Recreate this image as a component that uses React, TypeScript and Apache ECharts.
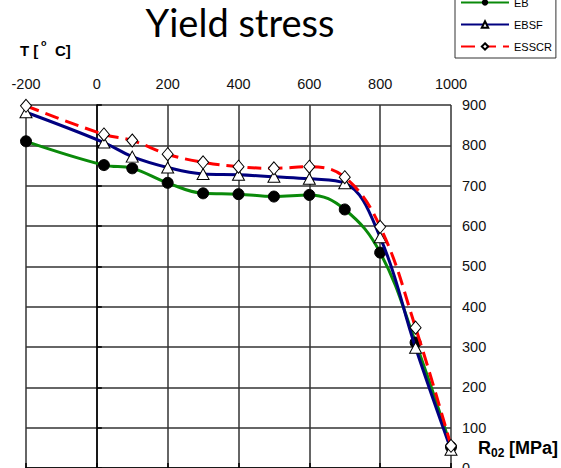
import React, { useEffect, useRef } from "react";
import * as echarts from "echarts";

const temperatures = [-200, 20, 100, 200, 300, 400, 500, 600, 700, 800, 900, 1000];
const ebValues = [810, 751, 743, 707, 681, 679, 673, 677, 641, 534, 311, 52];
const ebsfValues = [882, 807, 772, 745, 729, 727, 722, 717, 706, 572, 298, 45];
const esscrValues = [898, 827, 812, 778, 758, 747, 743, 747, 721, 598, 348, 55];
const seriesNames = ["EB", "EBSF", "ESSCR"];

const zip = (xs: number[], ys: number[]) => xs.map((x, i) => [x, ys[i]]);

const FONT = "'Liberation Sans', Arial, sans-serif";

export default function App() {
  const ref = useRef<HTMLDivElement>(null);
  useEffect(() => {
    if (!ref.current) return;
    const chart = echarts.init(ref.current, null, { renderer: "svg" });
    chart.setOption({
      animation: false,
      backgroundColor: "#fff",
      grid: {
        left: 26,
        right: 110,
        top: 105,
        bottom: 0,
        containLabel: false,
        outerBoundsMode: "none",
      },
      legend: {
        data: seriesNames,
        orient: "vertical",
        left: 455,
        top: -8,
        itemWidth: 48,
        itemHeight: 8,
        itemGap: 11,
        padding: [5, 4, 6, 5],
        borderColor: "#333",
        borderWidth: 1,
        backgroundColor: "#fff",
        textStyle: { fontSize: 11, color: "#000", fontFamily: FONT },
      },
      xAxis: {
        type: "value",
        position: "top",
        min: -200,
        max: 1000,
        interval: 200,
        axisLine: { show: true, lineStyle: { color: "#000", width: 1.5 } },
        axisTick: { show: true, length: 5, lineStyle: { color: "#000", width: 1.5 } },
        axisLabel: {
          fontSize: 14.5,
          color: "#111",
          fontFamily: FONT,
          margin: 14,
          formatter: (v: number) => String(v),
        },
        splitLine: { show: true, lineStyle: { color: "#333", width: 1.5 } },
      },
      yAxis: {
        type: "value",
        position: "right",
        min: 0,
        max: 900,
        interval: 100,
        axisLine: { show: true, lineStyle: { color: "#000", width: 1.5 } },
        axisTick: { show: true, length: 5, lineStyle: { color: "#000", width: 1.5 } },
        axisLabel: {
          fontSize: 14.5,
          color: "#111",
          fontFamily: FONT,
          margin: 11,
          formatter: (v: number) => String(v),
        },
        splitLine: { show: true, lineStyle: { color: "#333", width: 1.5 } },
      },
      series: [
        {
          name: seriesNames[0],
          type: "line",
          data: zip(temperatures, ebValues),
          smooth: 0.4,
          symbol: "circle",
          symbolSize: 11,
          lineStyle: { color: "#0a8a0a", width: 3 },
          itemStyle: { color: "#000", borderColor: "#000" },
          z: 2,
        },
        {
          name: seriesNames[1],
          type: "line",
          data: zip(temperatures, ebsfValues),
          smooth: 0.4,
          symbol: "triangle",
          symbolSize: [12, 11],
          lineStyle: { color: "#000080", width: 3 },
          itemStyle: { color: "#fff", borderColor: "#000", borderWidth: 1 },
          z: 3,
        },
        {
          name: seriesNames[2],
          type: "line",
          data: zip(temperatures, esscrValues),
          smooth: 0.4,
          symbol: "diamond",
          symbolSize: [11, 13],
          lineStyle: { color: "#ff0000", width: 3, type: [14, 7] },
          itemStyle: { color: "#fff", borderColor: "#000", borderWidth: 1 },
          z: 4,
        },
      ],
      graphic: [
        {
          type: "text",
          x: 240,
          y: 22,
          style: {
            text: "Yield stress",
            fontFamily: "Lato, 'Open Sans', sans-serif",
            fontSize: 38,
            fill: "#000",
            align: "center",
            verticalAlign: "middle",
          },
        },
        {
          type: "text",
          x: 20,
          y: 50,
          style: { text: "T [", fontFamily: FONT, fontWeight: "bold", fontSize: 15, fill: "#000", verticalAlign: "middle" },
        },
        {
          type: "text",
          x: 41,
          y: 42.5,
          style: { text: "o", fontFamily: FONT, fontWeight: "bold", fontSize: 9, fill: "#000", verticalAlign: "middle" },
        },
        {
          type: "text",
          x: 55,
          y: 50,
          style: { text: "C]", fontFamily: FONT, fontWeight: "bold", fontSize: 15, fill: "#000", verticalAlign: "middle" },
        },
        {
          type: "text",
          x: 478,
          y: 448,
          style: { text: "R", fontFamily: FONT, fontWeight: "bold", fontSize: 18, fill: "#000", verticalAlign: "middle" },
        },
        {
          type: "text",
          x: 491,
          y: 453,
          style: { text: "02", fontFamily: FONT, fontWeight: "bold", fontSize: 12, fill: "#000", verticalAlign: "middle" },
        },
        {
          type: "text",
          x: 504,
          y: 448,
          style: { text: " [MPa]", fontFamily: FONT, fontWeight: "bold", fontSize: 18, fill: "#000", verticalAlign: "middle" },
        },
      ],
    });
    return () => chart.dispose();
  }, []);
  return (
    <div
      ref={ref}
      style={{ position: "fixed", left: 0, top: 0, width: 561, height: 468, background: "#fff" }}
    />
  );
}
